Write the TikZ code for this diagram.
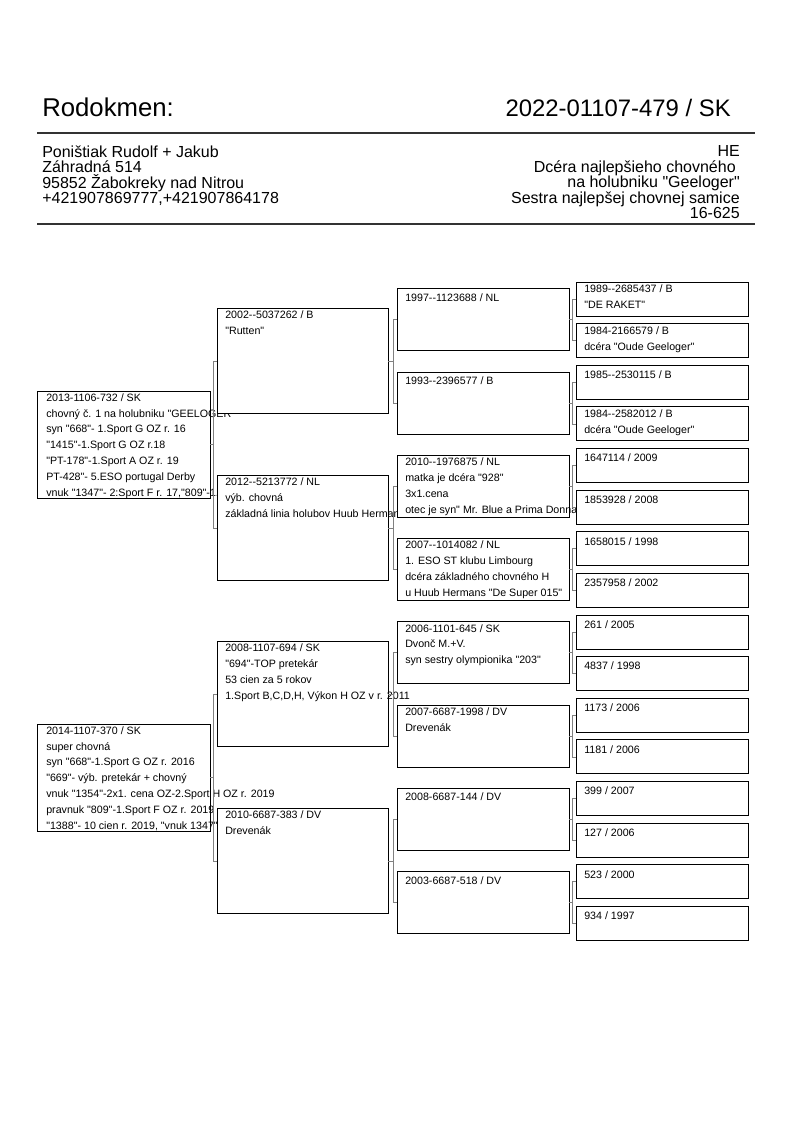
\documentclass[tikz,border=0pt]{standalone}
\usepackage{fontspec}
\setmainfont{Liberation Sans}[Ligatures=TeXOff]
\tikzset{
  box/.style={draw=black,fill=white,line width=0.7pt,inner sep=0pt,outer sep=0pt},
  boxa/.style={box,minimum width=129.75pt,minimum height=80.25pt},
  boxb/.style={box,minimum width=128.25pt,minimum height=78.75pt},
  boxc/.style={box,minimum width=129pt,minimum height=46.5pt},
  boxd/.style={box,minimum width=129pt,minimum height=25.5pt},
  txt/.style={anchor=north west,inner sep=0pt,align=left,
    font={\fontsize{8}{11.9}\selectfont\lineskiplimit=-5pt},
    execute at begin node={\rule{0pt}{7.5pt}}},
  head/.style={inner sep=0pt,font={\fontsize{19.3}{22}\selectfont}},
  addr/.style={inner sep=0pt,font={\fontsize{12}{11.6}\selectfont\lineskiplimit=-5pt},
    execute at begin node={\rule{0pt}{9pt}}},
  rule/.style={draw=black!80,line width=1.1pt},
  link/.style={draw=gray,line width=0.5pt},
}
\begin{document}
\begin{tikzpicture}[x=0.75pt,y=-0.75pt]
\useasboundingbox (0,0) rectangle (794,1123);
%% header
  \node [head,anchor=base west] (title) at (42,117) {Rodokmen:};
  \node [head,anchor=base east,font={\fontsize{17.9}{22}\selectfont}] (ring) at (731,117) {2022-01107-479 / SK};
  \draw [rule] (37,133) -- (755,133);
  \node [addr,anchor=north west,align=left] (owner) at (42,145.5) {Poništiak Rudolf + Jakub\\Záhradná 514\\95852 Žabokreky nad Nitrou\\+421907869777,+421907864178};
  \node [addr,anchor=north east,align=right] (note) at (740,145.5) {HE\\Dcéra najlepšieho chovného\kern3pt\\na holubniku "Geeloger"\\Sestra najlepšej chovnej samice\\16-625};
  \draw [rule] (37,224) -- (755,224);
%% generation 1
  \node [boxa] (a1) at (123.5,444.7) {};
  \node [txt] (a1t) at ([shift={(9,2)}]a1.north west) {2013-1106-732 / SK\\chovný č. 1 na holubniku "GEELOGER"\\syn "668"- 1.Sport G OZ r. 16\\"1415"-1.Sport G OZ r.18\\"PT-178"-1.Sport A OZ r. 19\\PT-428"- 5.ESO portugal Derby\\vnuk "1347"- 2:Sport F r. 17,"809"-1.};
  \node [boxa] (a2) at (123.5,777.7) {};
  \node [txt] (a2t) at ([shift={(9,2)}]a2.north west) {2014-1107-370 / SK\\super chovná\\syn "668"-1.Sport G OZ r. 2016\\"669"- výb. pretekár + chovný\\vnuk "1354"-2x1. cena OZ-2.Sport H OZ r. 2019\\pravnuk "809"-1.Sport F OZ r. 2019\\"1388"- 10 cien r. 2019, "vnuk 1347"};
%% generation 2
  \node [boxb] (b1) at (302.5,361.4) {};
  \node [txt] (b1t) at ([shift={(8,2)}]b1.north west) {2002--5037262 / B\\"Rutten"};
  \node [boxb] (b2) at (302.5,527.9) {};
  \node [txt] (b2t) at ([shift={(8,2)}]b2.north west) {2012--5213772 / NL\\výb. chovná\\základná linia holubov Huub Hermans};
  \node [boxb] (b3) at (302.5,694.4) {};
  \node [txt] (b3t) at ([shift={(8,2)}]b3.north west) {2008-1107-694 / SK\\"694"-TOP pretekár\\53 cien za 5 rokov\\1.Sport B,C,D,H, Výkon H OZ v r. 2011};
  \node [boxb] (b4) at (302.5,860.9) {};
  \node [txt] (b4t) at ([shift={(8,2)}]b4.north west) {2010-6687-383 / DV\\Drevenák};
%% generation 3
  \node [boxc] (c1) at (483,319.8) {};
  \node [txt] (c1t) at ([shift={(8,2.3)}]c1.north west) {1997--1123688 / NL};
  \node [boxc] (c2) at (483,403.1) {};
  \node [txt] (c2t) at ([shift={(8,2.3)}]c2.north west) {1993--2396577 / B};
  \node [boxc] (c3) at (483,486.3) {};
  \node [txt] (c3t) at ([shift={(8,2.3)}]c3.north west) {2010--1976875 / NL\\matka je dcéra "928"\\3x1.cena\\otec je syn" Mr. Blue a Prima Donna"};
  \node [boxc] (c4) at (483,569.6) {};
  \node [txt] (c4t) at ([shift={(8,2.3)}]c4.north west) {2007--1014082 / NL\\1. ESO ST klubu Limbourg\\dcéra základného chovného H\\u Huub Hermans "De Super 015"};
  \node [boxc] (c5) at (483,652.8) {};
  \node [txt] (c5t) at ([shift={(8,2.3)}]c5.north west) {2006-1101-645 / SK\\Dvonč M.+V.\\syn sestry olympionika "203"};
  \node [boxc] (c6) at (483,736.1) {};
  \node [txt] (c6t) at ([shift={(8,2.3)}]c6.north west) {2007-6687-1998 / DV\\Drevenák};
  \node [boxc] (c7) at (483,819.3) {};
  \node [txt] (c7t) at ([shift={(8,2.3)}]c7.north west) {2008-6687-144 / DV};
  \node [boxc] (c8) at (483,902.6) {};
  \node [txt] (c8t) at ([shift={(8,2.3)}]c8.north west) {2003-6687-518 / DV};
%% generation 4
  \node [boxd] (d1) at (662,299.0) {};
  \node [txt] (d1t) at ([shift={(8,3)}]d1.north west) {1989--2685437 / B\\"DE RAKET"};
  \node [boxd] (d2) at (662,340.6) {};
  \node [txt] (d2t) at ([shift={(8,3)}]d2.north west) {1984-2166579 / B\\dcéra "Oude Geeloger"};
  \node [boxd] (d3) at (662,382.3) {};
  \node [txt] (d3t) at ([shift={(8,3)}]d3.north west) {1985--2530115 / B};
  \node [boxd] (d4) at (662,423.9) {};
  \node [txt] (d4t) at ([shift={(8,3)}]d4.north west) {1984--2582012 / B\\dcéra "Oude Geeloger"};
  \node [boxd] (d5) at (662,465.5) {};
  \node [txt] (d5t) at ([shift={(8,3)}]d5.north west) {1647114 / 2009};
  \node [boxd] (d6) at (662,507.2) {};
  \node [txt] (d6t) at ([shift={(8,3)}]d6.north west) {1853928 / 2008};
  \node [boxd] (d7) at (662,548.8) {};
  \node [txt] (d7t) at ([shift={(8,3)}]d7.north west) {1658015 / 1998};
  \node [boxd] (d8) at (662,590.4) {};
  \node [txt] (d8t) at ([shift={(8,3)}]d8.north west) {2357958 / 2002};
  \node [boxd] (d9) at (662,632.0) {};
  \node [txt] (d9t) at ([shift={(8,3)}]d9.north west) {261 / 2005};
  \node [boxd] (d10) at (662,673.7) {};
  \node [txt] (d10t) at ([shift={(8,3)}]d10.north west) {4837 / 1998};
  \node [boxd] (d11) at (662,715.3) {};
  \node [txt] (d11t) at ([shift={(8,3)}]d11.north west) {1173 / 2006};
  \node [boxd] (d12) at (662,756.9) {};
  \node [txt] (d12t) at ([shift={(8,3)}]d12.north west) {1181 / 2006};
  \node [boxd] (d13) at (662,798.6) {};
  \node [txt] (d13t) at ([shift={(8,3)}]d13.north west) {399 / 2007};
  \node [boxd] (d14) at (662,840.2) {};
  \node [txt] (d14t) at ([shift={(8,3)}]d14.north west) {127 / 2006};
  \node [boxd] (d15) at (662,881.8) {};
  \node [txt] (d15t) at ([shift={(8,3)}]d15.north west) {523 / 2000};
  \node [boxd] (d16) at (662,923.5) {};
  \node [txt] (d16t) at ([shift={(8,3)}]d16.north west) {934 / 1997};
%% brackets
  \draw [link] (a1.east) -- ++(3,0) |- (b1.west);
  \draw [link] (a1.east) -- ++(3,0) |- (b2.west);
  \draw [link] (a2.east) -- ++(3,0) |- (b3.west);
  \draw [link] (a2.east) -- ++(3,0) |- (b4.west);
  \draw [link] (b1.east) -- ++(5,0) |- (c1.west);
  \draw [link] (b1.east) -- ++(5,0) |- (c2.west);
  \draw [link] (b2.east) -- ++(5,0) |- (c3.west);
  \draw [link] (b2.east) -- ++(5,0) |- (c4.west);
  \draw [link] (b3.east) -- ++(5,0) |- (c5.west);
  \draw [link] (b3.east) -- ++(5,0) |- (c6.west);
  \draw [link] (b4.east) -- ++(5,0) |- (c7.west);
  \draw [link] (b4.east) -- ++(5,0) |- (c8.west);
  \draw [link] (c1.east) -- ++(3.5,0) |- (d1.west);
  \draw [link] (c1.east) -- ++(3.5,0) |- (d2.west);
  \draw [link] (c2.east) -- ++(3.5,0) |- (d3.west);
  \draw [link] (c2.east) -- ++(3.5,0) |- (d4.west);
  \draw [link] (c3.east) -- ++(3.5,0) |- (d5.west);
  \draw [link] (c3.east) -- ++(3.5,0) |- (d6.west);
  \draw [link] (c4.east) -- ++(3.5,0) |- (d7.west);
  \draw [link] (c4.east) -- ++(3.5,0) |- (d8.west);
  \draw [link] (c5.east) -- ++(3.5,0) |- (d9.west);
  \draw [link] (c5.east) -- ++(3.5,0) |- (d10.west);
  \draw [link] (c6.east) -- ++(3.5,0) |- (d11.west);
  \draw [link] (c6.east) -- ++(3.5,0) |- (d12.west);
  \draw [link] (c7.east) -- ++(3.5,0) |- (d13.west);
  \draw [link] (c7.east) -- ++(3.5,0) |- (d14.west);
  \draw [link] (c8.east) -- ++(3.5,0) |- (d15.west);
  \draw [link] (c8.east) -- ++(3.5,0) |- (d16.west);
\end{tikzpicture}
\end{document}
